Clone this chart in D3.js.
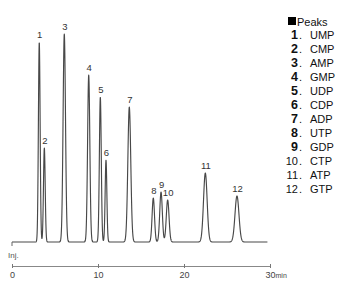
<!DOCTYPE html>
<html><head><meta charset="utf-8">
<script src="https://cdn.jsdelivr.net/npm/d3@7"></script>
<style>body{margin:0;background:#fff}svg{display:block}</style>
</head><body><svg id="c" width="350" height="289"></svg>
<script>
const peakNumbers = [1,2,3,4,5,6,7,8,9,10,11,12];
const compounds = ["UMP","CMP","AMP","GMP","UDP","CDP","ADP","UTP","GDP","CTP","ATP","GTP"];
const retentionTimes = [3.17,3.76,6.08,8.92,10.27,10.93,13.64,16.43,17.33,18.10,22.48,26.16];
const peakHeights = [200,94,208,167,145,82,135,44,50,42,69,46];
const peakWidths = [0.10,0.10,0.14,0.13,0.11,0.10,0.17,0.14,0.15,0.16,0.21,0.23];
const tickValues = [0,10,20,30];
const tickLabels = ["0","10","20","30"];
const runEnd = 29.7;

const svg = d3.select("#c");
const x = d3.scaleLinear().domain([0,30]).range([12,270]);
const y = d3.scaleLinear().domain([0,210]).range([242,32]);

const peaks = peakNumbers.map((n,i)=>({n, name:compounds[i], rt:retentionTimes[i], h:peakHeights[i], w:peakWidths[i]}));
const signal = t => d3.sum(peaks, p => p.h*Math.exp(-0.5*((t-p.rt)/p.w)**2));
const times = d3.range(0, runEnd, 0.02).concat([runEnd]);
const trace = times.map(t=>[t, signal(t)]);

svg.append("path")
  .datum(trace)
  .attr("fill","none").attr("stroke","#484848").attr("stroke-width",1.15)
  .attr("stroke-linejoin","round")
  .attr("d", d3.line().x(d=>x(d[0])).y(d=>y(d[1])));

// injection mark
svg.append("line").attr("x1",x(0)).attr("x2",x(0)).attr("y1",y(0)).attr("y2",y(0)+4)
  .attr("stroke","#666").attr("stroke-width",1);
svg.append("text").attr("x",8).attr("y",258).attr("font-family","Liberation Sans, Arial, sans-serif")
  .attr("font-size",8).attr("fill","#555").text("Inj.");

// peak labels
svg.append("g").selectAll("text").data(peaks).join("text")
  .attr("x", d=>x(d.rt)+0.5)
  .attr("y", d=>y(d.h)-4)
  .attr("text-anchor","middle")
  .attr("font-family","Liberation Sans, Arial, sans-serif")
  .attr("font-size",9.5).attr("fill","#333")
  .text(d=>d.n);

// time axis
const axis = d3.axisBottom(x).tickValues(tickValues)
  .tickFormat((d,i)=>tickLabels[i]).tickSizeOuter(0).tickSize(2);
const ag = svg.append("g").attr("transform","translate(0,266)").call(axis);
ag.select(".domain").attr("stroke","#888");
ag.selectAll(".tick line").attr("stroke","#777").attr("y1",-2).attr("y2",2);
ag.selectAll(".tick text").attr("font-family","Liberation Sans, Arial, sans-serif")
  .attr("font-size",9).attr("fill","#444").attr("y",6);
ag.selectAll(".tick text").filter((d,i)=>i===tickValues.length-1)
  .attr("text-anchor","start").attr("dx",-5)
  .append("tspan").attr("font-size",7).text("min");

// legend
const lg = svg.append("g").attr("font-family","Liberation Sans, Arial, sans-serif").attr("fill","#111");
lg.append("rect").attr("x",288).attr("y",17).attr("width",8).attr("height",8).attr("fill","#000");
lg.append("text").attr("x",297).attr("y",25.5).attr("font-size",11).text("Peaks");
const rows = lg.selectAll("g.row").data(peaks).join("g").attr("class","row")
  .attr("transform",(d,i)=>`translate(0,${38.5+i*14})`);
rows.append("text").attr("x",298).attr("text-anchor","end")
  .attr("font-size",d=>d.n<10?12.5:11).attr("font-weight",d=>d.n<10?"bold":"normal")
  .text(d=>d.n);
rows.append("text").attr("x",299).attr("font-size",11).text(".");
rows.append("text").attr("x",310).attr("font-size",11).text(d=>d.name);
</script></body></html>
